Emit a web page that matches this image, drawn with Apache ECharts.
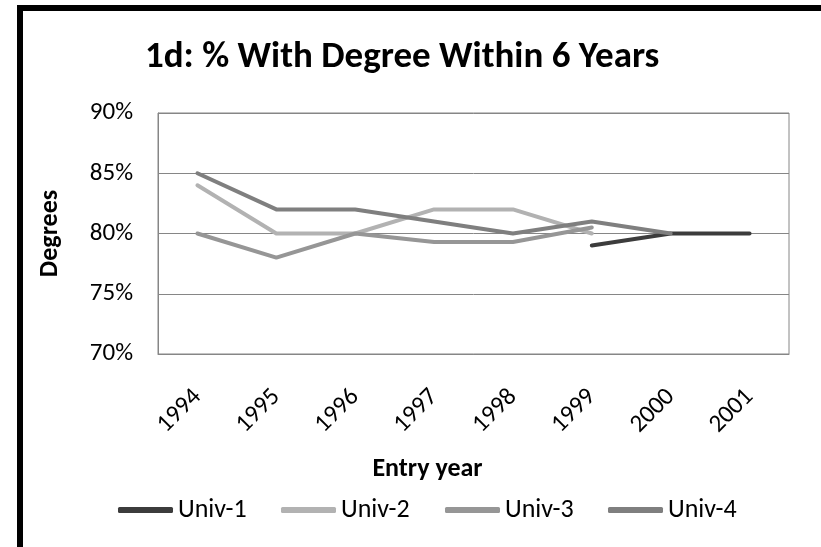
<!DOCTYPE html>
<html>
<head>
<meta charset="utf-8">
<script src="https://cdn.jsdelivr.net/npm/echarts@6/dist/echarts.min.js"></script>
<style>
html,body{margin:0;padding:0;background:#fff;}
#chart{width:821px;height:547px;}
</style>
</head>
<body>
<div id="chart"></div>
<script>
var categories = ['1994','1995','1996','1997','1998','1999','2000','2001'];
var univ1 = [null, null, null, null, null, 79, 80, 80];
var univ2 = [84, 80, 80, 82, 82, 80, null, null];
var univ3 = [80, 78, 80, 79.3, 79.3, 80.5, null, null];
var univ4 = [85, 82, 82, 81, 80, 81, 80, null];
var seriesNames = ['Univ-1','Univ-2','Univ-3','Univ-4'];
var seriesColors = ['#3c3c3c','#b2b2b2','#969696','#7f7f7f'];
var yTicks = {min: 70, max: 90, interval: 5};

var FONT = "Carlito, 'Open Sans', sans-serif";
var seriesData = [univ1, univ2, univ3, univ4];
var legendLefts = [118, 281, 445, 608];

var chart = echarts.init(document.getElementById('chart'), null, {renderer: 'canvas'});
var option = {
  backgroundColor: '#fff',
  animation: false,
  title: {
    text: '1d: % With Degree Within 6 Years',
    left: 145,
    top: 39,
    padding: 0,
    textStyle: {fontFamily: FONT, fontWeight: 'bold', fontSize: 37, color: '#000'}
  },
  graphic: [{
    type: 'rect',
    shape: {x: 20, y: 8, width: 900, height: 700},
    style: {fill: 'none', stroke: '#000', lineWidth: 6},
    silent: true
  }],
  legend: seriesNames.map(function (n, i) {
    return {
      data: [n],
      left: legendLefts[i],
      top: 497,
      padding: 0,
      icon: 'roundRect',
      itemWidth: 55,
      itemHeight: 6,
      itemGap: 0,
      textStyle: {fontFamily: FONT, fontSize: 26, color: '#000'}
    };
  }),
  grid: {
    left: 158, right: 32, top: 113, bottom: 193,
    show: true, borderColor: '#868686', borderWidth: 1, containLabel: false
  },
  xAxis: {
    type: 'category',
    data: categories,
    boundaryGap: true,
    name: 'Entry year',
    nameLocation: 'middle',
    nameGap: 102,
    nameTextStyle: {fontFamily: FONT, fontWeight: 'bold', fontSize: 26, color: '#000', padding: [0, 92, 0, 0]},
    axisLine: {lineStyle: {color: '#868686', width: 1}},
    axisTick: {show: false},
    axisLabel: {rotate: 45, margin: 39, fontFamily: FONT, fontSize: 25, color: '#000'}
  },
  yAxis: {
    type: 'value',
    min: yTicks.min, max: yTicks.max, interval: yTicks.interval,
    name: 'Degrees',
    nameLocation: 'middle',
    nameRotate: 90,
    nameGap: 95,
    nameTextStyle: {fontFamily: FONT, fontWeight: 'bold', fontSize: 26, color: '#000'},
    axisLine: {show: true, lineStyle: {color: '#868686', width: 1}},
    axisTick: {show: false},
    axisLabel: {formatter: '{value}%', margin: 25, fontFamily: FONT, fontSize: 25, color: '#000'},
    splitLine: {lineStyle: {color: '#868686', width: 1}}
  },
  series: seriesNames.map(function (n, i) {
    return {
      name: n,
      type: 'line',
      data: seriesData[i],
      showSymbol: false,
      symbol: 'none',
      connectNulls: false,
      color: seriesColors[i],
      lineStyle: {width: 4, color: seriesColors[i], cap: 'round', join: 'round'}
    };
  })
};
chart.setOption(option);
</script>
</body>
</html>
